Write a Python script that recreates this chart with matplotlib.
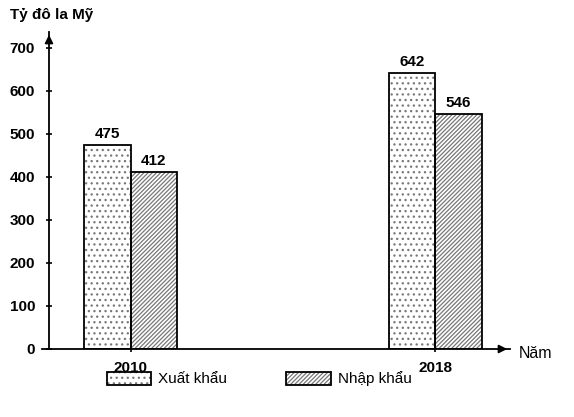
import matplotlib
matplotlib.use("Agg")
import matplotlib.pyplot as plt
from matplotlib.patches import Patch
from matplotlib.legend_handler import HandlerTuple
import numpy as np

plt.rcParams['font.family'] = ['Liberation Sans', 'DejaVu Sans']
plt.rcParams['hatch.linewidth'] = 0.9

years = ["2010", "2018"]
export_vals = [475, 642]
import_vals = [412, 546]
series_names = ["Xuất khẩu", "Nhập khẩu"]
yticks = [0, 100, 200, 300, 400, 500, 600, 700]

hatch_exp = '...'
hatch_imp = '////////'
hatch_col = '#777777'

fig = plt.figure(figsize=(5.74, 4.17), dpi=100)
ax = fig.add_axes([49/574, 68/417, (510-49)/574, (385-68)/417])

x = np.arange(len(years))
w = 0.153
# hatch layers (grey)
ax.bar(x - w/2, export_vals, w, facecolor='white', edgecolor=hatch_col,
       linewidth=0, hatch=hatch_exp, zorder=2)
ax.bar(x + w/2, import_vals, w, facecolor='white', edgecolor=hatch_col,
       linewidth=0, hatch=hatch_imp, zorder=2)
# outlines
b1 = ax.bar(x - w/2, export_vals, w, fill=False, edgecolor='black', linewidth=1.3, zorder=3)
b2 = ax.bar(x + w/2, import_vals, w, fill=False, edgecolor='black', linewidth=1.3, zorder=3)

for bars, vals in ((b1, export_vals), (b2, import_vals)):
    for p, v in zip(bars, vals):
        ax.annotate(str(v), (p.get_x() + p.get_width()/2, v), xytext=(0, 3),
                    textcoords='offset points', ha='center', va='bottom',
                    fontsize=11, fontweight='bold')

ax.set_xlim(-0.268, 1.246)
ax.set_ylim(0, 737)
for s in ['top', 'right']:
    ax.spines[s].set_visible(False)
ax.spines['left'].set_linewidth(1.3)
ax.spines['bottom'].set_linewidth(1.3)
ax.spines['bottom'].set_bounds(-0.29, 1.246)
ax.set_xticks(x)
ax.set_xticklabels(years, fontsize=11, fontweight='bold')
ax.set_yticks(yticks)
ax.set_yticklabels([str(t) for t in yticks], fontsize=11, fontweight='bold')
ax.tick_params(axis='both', length=4, width=1.2, direction='inout')
ax.tick_params(axis='x', pad=7)
ax.tick_params(axis='y', pad=8)

# arrows
ax.annotate('', xy=(0, 1.0), xytext=(0, 0.97), xycoords='axes fraction',
            arrowprops=dict(arrowstyle='-|>', color='black', lw=1.3, mutation_scale=12))
ax.annotate('', xy=(1.0, 0), xytext=(0.97, 0), xycoords='axes fraction',
            arrowprops=dict(arrowstyle='-|>', color='black', lw=1.3, mutation_scale=12))

fig.text(10/574, 1 - 15/417, "Tỷ đô la Mỹ", fontsize=11, fontweight='bold', va='center', ha='left')
fig.text(519/574, 1 - 353/417, "Năm", fontsize=11.5, va='center', ha='left')

handles = []
for h in (hatch_exp, hatch_imp):
    handles.append((Patch(facecolor='white', edgecolor=hatch_col, hatch=h, linewidth=0),
                    Patch(fill=False, edgecolor='black', linewidth=1.3)))
fig.legend(handles, series_names, loc='center', bbox_to_anchor=(259/574, 38/417),
           ncol=2, frameon=False, handlelength=2.9, handleheight=0.95,
           columnspacing=3.9, handletextpad=0.45, fontsize=11,
           handler_map={tuple: HandlerTuple(ndivide=1, pad=0)})

fig.savefig("out.png", dpi=100)
